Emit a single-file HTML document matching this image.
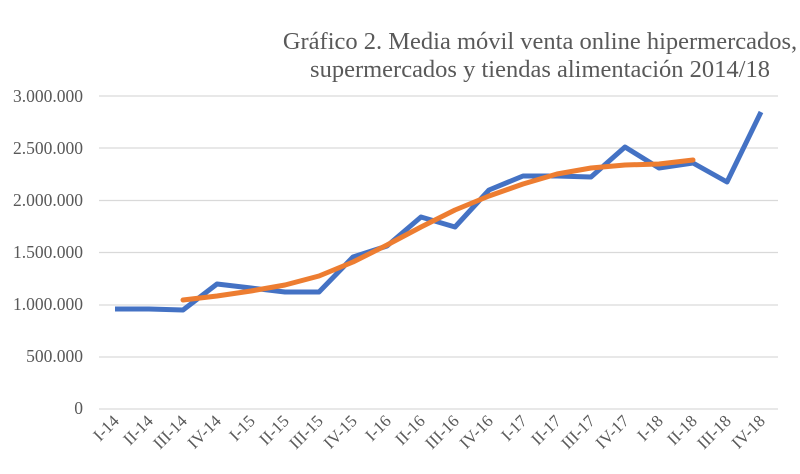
<!DOCTYPE html>
<html><head><meta charset="utf-8"><style>
html,body{margin:0;padding:0;background:#fff;width:800px;height:474px;overflow:hidden}
svg{display:block}
text{font-family:"Liberation Serif",serif;fill:#595959}
</style></head><body>
<svg width="800" height="474" viewBox="0 0 800 474">
<text x="540" y="49" text-anchor="middle" style="font-size:24.5px">Gráfico 2. Media móvil venta online hipermercados,</text>
<text x="540" y="77" text-anchor="middle" style="font-size:24.5px">supermercados y tiendas alimentación 2014/18</text>
<g stroke="#d9d9d9" stroke-width="1.3">
<line x1="99" x2="778" y1="96" y2="96"/><line x1="99" x2="778" y1="148" y2="148"/>
<line x1="99" x2="778" y1="200.5" y2="200.5"/><line x1="99" x2="778" y1="252.5" y2="252.5"/>
<line x1="99" x2="778" y1="305" y2="305"/><line x1="99" x2="778" y1="357" y2="357"/>
<line x1="99" x2="778" y1="409" y2="409"/>
</g>
<g style="font-size:17.5px" text-anchor="end">
<text x="83" y="102">3.000.000</text><text x="83" y="154">2.500.000</text>
<text x="83" y="206">2.000.000</text><text x="83" y="258">1.500.000</text>
<text x="83" y="310">1.000.000</text><text x="83" y="362">500.000</text>
<text x="83" y="414">0</text>
</g>
<polyline fill="none" stroke="#4472c4" stroke-width="5" stroke-linejoin="round" points="115,309 149,309 183,310 217,284 251,288 285,292 319,292 353,257 387,246 421,217 455,227 489,190 523,176 557,176 591,177 625,147 659,168 693,163 727,182 761,112"/>
<polyline fill="none" stroke="#ed7d31" stroke-width="5" stroke-linejoin="round" stroke-linecap="round" points="183,300 217,296 251,291 285,285 319,276 353,262 387,245 421,227 455,210 489,196 523,184 557,174 591,168 625,165 659,164 693,160"/>
<g style="font-size:17px" text-anchor="end">
<text transform="translate(120,422) rotate(-45)">I-14</text>
<text transform="translate(154,422) rotate(-45)">II-14</text>
<text transform="translate(188,422) rotate(-45)">III-14</text>
<text transform="translate(222,422) rotate(-45)">IV-14</text>
<text transform="translate(256,422) rotate(-45)">I-15</text>
<text transform="translate(290,422) rotate(-45)">II-15</text>
<text transform="translate(324,422) rotate(-45)">III-15</text>
<text transform="translate(358,422) rotate(-45)">IV-15</text>
<text transform="translate(392,422) rotate(-45)">I-16</text>
<text transform="translate(426,422) rotate(-45)">II-16</text>
<text transform="translate(460,422) rotate(-45)">III-16</text>
<text transform="translate(494,422) rotate(-45)">IV-16</text>
<text transform="translate(528,422) rotate(-45)">I-17</text>
<text transform="translate(562,422) rotate(-45)">II-17</text>
<text transform="translate(596,422) rotate(-45)">III-17</text>
<text transform="translate(630,422) rotate(-45)">IV-17</text>
<text transform="translate(664,422) rotate(-45)">I-18</text>
<text transform="translate(698,422) rotate(-45)">II-18</text>
<text transform="translate(732,422) rotate(-45)">III-18</text>
<text transform="translate(766,422) rotate(-45)">IV-18</text>
</g>
</svg>
</body></html>
